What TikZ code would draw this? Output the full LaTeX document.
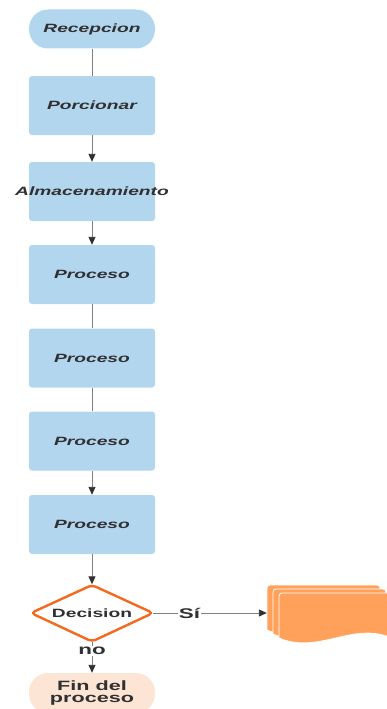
\documentclass[tikz,border=0pt]{standalone}
\usepackage{fontspec}
\setmainfont{Liberation Sans}
\newfontfamily\widesans[FakeStretch=1.6]{Liberation Sans}
\usetikzlibrary{arrows.meta,shapes.geometric}

\definecolor{boxblue}{RGB}{179,214,239}
\definecolor{inkdark}{RGB}{48,48,48}
\definecolor{linegrey}{RGB}{128,128,128}
\definecolor{decorange}{RGB}{245,104,30}
\definecolor{docorange}{RGB}{255,161,90}
\definecolor{endpeach}{RGB}{253,229,213}

\tikzset{
  x=1pt, y=-1pt,
  every node/.style={text=inkdark},
  stepbox/.style={fill=boxblue, rounded corners=3pt, minimum width=126pt,
    minimum height=59pt, inner sep=0pt,
    font=\widesans\bfseries\itshape\fontsize{12}{14}\selectfont},
  pill/.style={fill=boxblue, rounded corners=19pt, minimum width=126pt,
    minimum height=39pt, inner sep=0pt,
    font=\widesans\bfseries\itshape\fontsize{12}{14}\selectfont},
  decisionbox/.style={minimum width=122pt, minimum height=57pt, inner sep=0pt,
    font=\widesans\bfseries\fontsize{12}{14}\selectfont},
  decisionline/.style={draw=decorange, line width=2.4pt, fill=white,
    rounded corners=4pt, line join=round},
  endpill/.style={fill=endpeach, rounded corners=19pt, minimum width=126pt,
    minimum height=40pt, inner sep=0pt, align=center,
    font=\widesans\bfseries\fontsize{13.5}{14}\selectfont},
  flowline/.style={draw=linegrey, line width=0.9pt},
  flowarrow/.style={flowline, -{Triangle[length=8pt,width=7pt,color=inkdark]}},
  edgelabel/.style={fill=white, inner sep=1pt,
    font=\widesans\bfseries\fontsize{14}{14}\selectfont},
  docsheet/.style={fill=docorange, draw=white, line width=0.8pt},
}

% one sheet of the stacked-document symbol, top-left corner at (#1,#2)
\newcommand\docsheet[2]{%
  \path[docsheet] (#1,#2+45) [rounded corners=3pt]-- (#1,#2) -- (#1+113,#2)
    [sharp corners]-- (#1+113,#2+45)
    .. controls (#1+73,#2+28) and (#1+40,#2+62) .. (#1,#2+45) -- cycle;%
}

\begin{document}
\begin{tikzpicture}
\useasboundingbox (0,0) rectangle (386,709);

% main process column
\node[pill]    (rec)  at (92,29)  {Recepcion};
\node[stepbox] (por)  at (92,105.5) {Porcionar};
\node[stepbox] (alm)  at (92,191.5) {\makebox[0pt][c]{Almacenamiento}};
\node[stepbox] (p1)   at (92,274.5) {Proceso};
\node[stepbox] (p2)   at (92,358) {Proceso};
\node[stepbox] (p3)   at (92,441) {Proceso};
\node[stepbox] (p4)   at (92,524.5) {Proceso};

% decision diamond
\path[decisionline] (31,613) -- (92,585) -- (153,613) -- (92,641.5) -- cycle;
\node[decisionbox] (dec) at (92,613) {Decision};

\node[endpill] (fin)  at (92,693) {Fin del\\[-2pt]proceso};

% stacked documents
\docsheet{267}{585}
\docsheet{273}{589}
\docsheet{279}{593}
\node[minimum width=113pt, minimum height=50pt, inner sep=0pt] (docs) at (323.5,613) {};

% connectors
\draw[flowline]  (rec) -- (por);
\draw[flowarrow] (por) -- (alm);
\draw[flowarrow] (alm) -- (p1);
\draw[flowline]  (p1) -- (p2);
\draw[flowline]  (p2) -- (p3);
\draw[flowarrow] (p3) -- (p4);
\draw[flowarrow] (p4) -- (dec);
\draw[flowarrow] (dec.south) -- node[edgelabel, pos=0.3] {no} (fin.north);
\draw[flowarrow] (dec.east) -- node[edgelabel, pos=0.32] {Sí} (docs.west);
\end{tikzpicture}
\end{document}
